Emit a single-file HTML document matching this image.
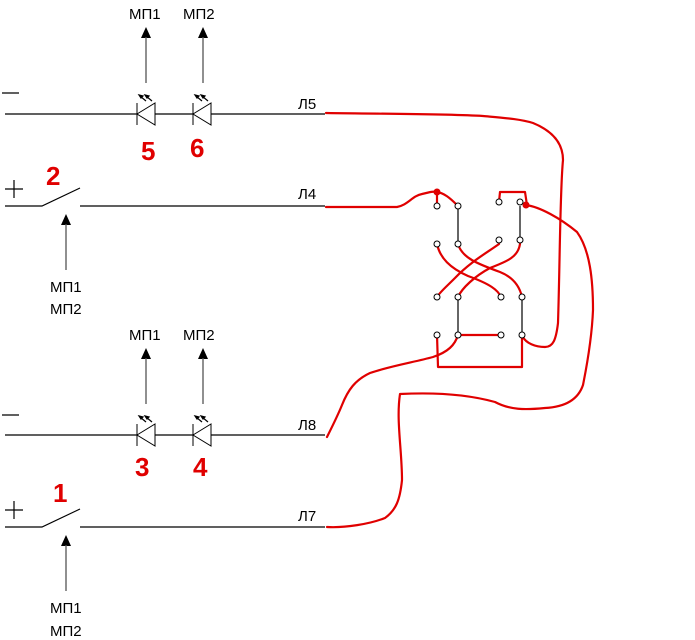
<!DOCTYPE html>
<html><head><meta charset="utf-8"><style>
html,body{margin:0;padding:0;background:#fff;}
svg{display:block;}
text{font-family:"Liberation Sans",sans-serif;}
</style></head><body>
<svg width="695" height="640" viewBox="0 0 695 640" xmlns="http://www.w3.org/2000/svg">
<defs>
<g id="diode">
  <line x1="0" y1="-11" x2="0" y2="11" stroke="#000" stroke-width="1"/>
  <polygon points="0,0 18,-11 18,11" fill="#fff" stroke="#000" stroke-width="1"/>
  <g stroke="#000" stroke-width="1.2" fill="#000">
    <line x1="3" y1="-18" x2="9" y2="-13"/>
    <line x1="9" y1="-18" x2="15" y2="-13"/>
    <polygon points="2,-19 6,-18 4,-16"/>
    <polygon points="8,-19 12,-18 10,-16"/>
  </g>
</g>
<g id="uparrow">
  <polygon points="0,0 -5,11 5,11" fill="#000"/>
  <line x1="0" y1="10" x2="0" y2="56" stroke="#555" stroke-width="1.3"/>
</g>
</defs>

<g stroke="#000" stroke-width="1.2" fill="none">
  <line x1="2" y1="93" x2="19" y2="93"/>
  <line x1="5" y1="114" x2="325" y2="114"/>
  <line x1="5" y1="189" x2="23" y2="189"/><line x1="14" y1="180" x2="14" y2="198"/>
  <polyline points="5,206 42,206 80,188"/>
  <line x1="80" y1="206" x2="325" y2="206"/>
  <line x1="2" y1="415" x2="19" y2="415"/>
  <line x1="5" y1="435" x2="325" y2="435"/>
  <line x1="5" y1="510" x2="23" y2="510"/><line x1="14" y1="501" x2="14" y2="519"/>
  <polyline points="5,527 42,527 80,509"/>
  <line x1="80" y1="527" x2="325" y2="527"/>
</g>

<use href="#diode" x="137" y="114"/>
<use href="#diode" x="193" y="114"/>
<use href="#diode" x="137" y="435"/>
<use href="#diode" x="193" y="435"/>

<use href="#uparrow" x="146" y="27"/>
<use href="#uparrow" x="203" y="27"/>
<use href="#uparrow" x="146" y="348"/>
<use href="#uparrow" x="203" y="348"/>
<use href="#uparrow" x="66" y="214"/>
<use href="#uparrow" x="66" y="535"/>

<g font-size="15" fill="#000">
  <text x="129" y="19">МП1</text><text x="183" y="19">МП2</text>
  <text x="129" y="340">МП1</text><text x="183" y="340">МП2</text>
  <text x="50" y="292">МП1</text><text x="50" y="314">МП2</text>
  <text x="50" y="613">МП1</text><text x="50" y="636">МП2</text>
  <text x="298" y="109">Л5</text><text x="298" y="199">Л4</text>
  <text x="298" y="430">Л8</text><text x="298" y="521">Л7</text>
</g>
<g font-size="26" font-weight="bold" fill="#e00000">
  <text x="141" y="160">5</text><text x="190" y="157">6</text>
  <text x="46" y="185">2</text>
  <text x="135" y="476">3</text><text x="193" y="476">4</text>
  <text x="53" y="502">1</text>
</g>

<g stroke="#000" stroke-width="1.2">
  <line x1="458" y1="206" x2="458" y2="244"/>
  <line x1="520" y1="206" x2="520" y2="244"/>
  <line x1="458" y1="297" x2="458" y2="335"/>
  <line x1="522" y1="297" x2="522" y2="335"/>
</g>

<g stroke="#e00000" stroke-width="2.2" fill="none" stroke-linecap="round" stroke-linejoin="round">
  <path d="M326,113 C400,114 450,114 483,116 C505,118 520,119 533,123 C555,132 563,145 563,160 C560,190 560,260 558,323 C556,340 553,347 545,347 C535,347 526,343 523,337"/>
  <path d="M326,207 L397,207 C408,205 412,196 422,194 C430,192 434,191 437,192 L437,205"/>
  <path d="M437,192 C444,193 450,198 457,205"/>
  <path d="M499,202 L500,192 L525,192 L527,205"/>
  <path d="M526,205 C540,207 560,218 577,232 C590,250 593,280 593,310 C592,335 588,360 583,385 C578,400 565,407 545,408 C525,410 510,410 495,402 C470,395 440,392 400,394 C396,420 402,450 402,480 C400,500 396,510 385,518 C370,524 345,528 327,527"/>
  <path d="M327,437 C333,425 338,415 342,405 C348,390 355,380 370,373 C390,366 415,362 433,357 C448,352 455,345 458,335"/>
  <path d="M437,335 L438,367 L522,367 L522,337"/>
  <path d="M458,335 L501,335"/>
  <path d="M437,244 C440,258 450,268 468,276 C490,284 498,290 501,297"/>
  <path d="M458,244 C462,258 478,264 500,272 C515,278 520,288 522,297"/>
  <path d="M499,244 C488,252 470,262 455,278 C445,288 440,292 437,297"/>
  <path d="M520,244 C518,258 505,262 490,268 C475,276 462,288 458,297"/>
</g>
<circle cx="437" cy="192" r="3.5" fill="#e00000"/>
<circle cx="526" cy="205" r="3.5" fill="#e00000"/>

<g fill="#fff" stroke="#000" stroke-width="1">
  <circle cx="437" cy="206" r="3"/><circle cx="458" cy="206" r="3"/><circle cx="499" cy="202" r="3"/><circle cx="520" cy="202" r="3"/>
  <circle cx="437" cy="244" r="3"/><circle cx="458" cy="244" r="3"/><circle cx="499" cy="240" r="3"/><circle cx="520" cy="240" r="3"/>
  <circle cx="437" cy="297" r="3"/><circle cx="458" cy="297" r="3"/><circle cx="501" cy="297" r="3"/><circle cx="522" cy="297" r="3"/>
  <circle cx="437" cy="335" r="3"/><circle cx="458" cy="335" r="3"/><circle cx="501" cy="335" r="3"/><circle cx="522" cy="335" r="3"/>
</g>
</svg>
</body></html>
